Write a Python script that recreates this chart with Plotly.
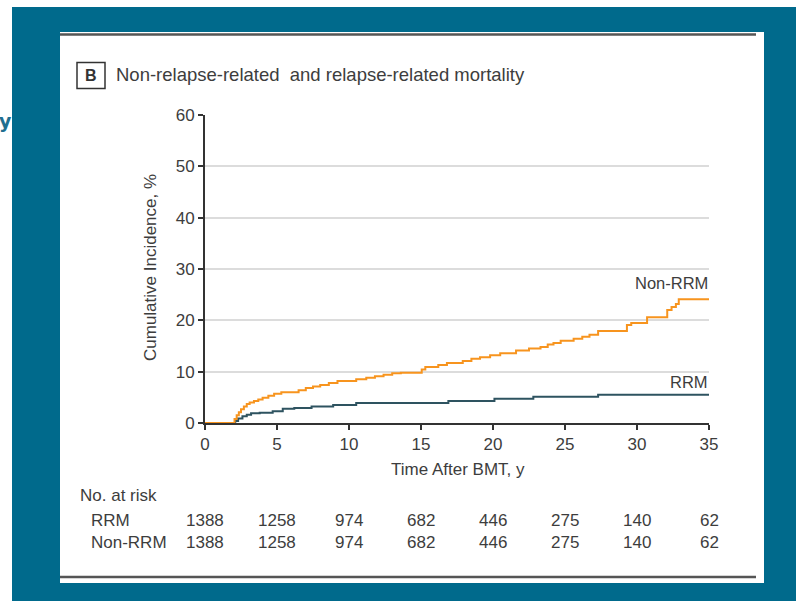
import plotly.graph_objects as go

# ---------------- data ----------------
nonrrm_t = [0, 2.05, 2.2, 2.35, 2.5, 2.7, 2.9, 3.1, 3.4, 3.7, 4.0, 4.4, 4.8, 5.3, 6.5, 7.0, 7.5,
            8.0, 8.6, 9.2, 10.5, 11.2, 11.8, 12.4, 13.0, 13.6, 15.05, 15.3, 16.2, 16.8, 17.9, 18.5,
            19.1, 19.8, 20.5, 21.6, 22.5, 23.3, 23.8, 24.2, 24.7, 25.6, 26.2, 26.7, 27.3, 29.3,
            29.6, 30.7, 32.1, 32.4, 32.7, 32.9, 35]
nonrrm_v = [0, 0.8, 1.5, 2.1, 2.7, 3.2, 3.7, 4.0, 4.3, 4.6, 4.9, 5.3, 5.7, 6.0, 6.4, 6.8, 7.1,
            7.4, 7.8, 8.2, 8.5, 8.8, 9.1, 9.4, 9.7, 9.8, 10.4, 10.9, 11.3, 11.7, 12.1, 12.5,
            12.8, 13.2, 13.6, 14.1, 14.5, 14.8, 15.3, 15.6, 16.0, 16.4, 16.8, 17.2, 17.9, 19.1,
            19.5, 20.6, 22.0, 22.6, 23.2, 24.1, 24.1]

rrm_t = [0, 2.1, 2.3, 2.6, 2.9, 3.2, 3.8, 4.7, 5.4, 6.2, 7.4, 8.9, 10.5, 16.9, 20.1, 22.8, 27.3, 35]
rrm_v = [0, 0.4, 0.9, 1.3, 1.6, 1.9, 2.0, 2.3, 2.8, 2.9, 3.2, 3.5, 3.9, 4.3, 4.7, 5.1, 5.5, 5.5]

risk_times = [0, 5, 10, 15, 20, 25, 30, 35]
risk_rrm = [1388, 1258, 974, 682, 446, 275, 140, 62]
risk_nonrrm = [1388, 1258, 974, 682, 446, 275, 140, 62]

x_ticks = [0, 5, 10, 15, 20, 25, 30, 35]
y_ticks = [0, 10, 20, 30, 40, 50, 60]

# ---------------- layout helpers ----------------
W, H = 796, 601
L, R, T, B = 205, 87, 115, 178
PW, PH = W - L - R, H - T - B


def px(x):
    return (x - L) / PW


def py(y):
    return (H - B - y) / PH


FONT = "Liberation Sans Narrow, Arial Narrow, sans-serif"
TXT = "#3d3d3d"
TEAL = "#006a8c"
ORANGE = "#f7941e"
SLATE = "#2e5360"

fig = go.Figure()
fig.add_trace(go.Scatter(x=rrm_t, y=rrm_v, mode="lines", line=dict(color=SLATE, width=2, shape="hv"),
                         showlegend=False, hoverinfo="skip"))
fig.add_trace(go.Scatter(x=nonrrm_t, y=nonrrm_v, mode="lines", line=dict(color=ORANGE, width=2, shape="hv"),
                         showlegend=False, hoverinfo="skip"))

shapes = [
    dict(type="rect", xref="paper", yref="paper", x0=px(0), x1=px(W), y0=py(0), y1=py(7),
         fillcolor="white", line=dict(width=0), layer="below"),
    dict(type="rect", xref="paper", yref="paper", x0=px(0), x1=px(12), y0=py(0), y1=py(H),
         fillcolor="white", line=dict(width=0), layer="below"),
    dict(type="rect", xref="paper", yref="paper", x0=px(60), x1=px(764), y0=py(32), y1=py(583),
         fillcolor="white", line=dict(width=0), layer="below"),
    dict(type="line", xref="paper", yref="paper", x0=px(60), x1=px(756), y0=py(34.5), y1=py(34.5),
         line=dict(color="#555555", width=2.5)),
    dict(type="line", xref="paper", yref="paper", x0=px(60), x1=px(756), y0=py(577), y1=py(577),
         line=dict(color="#555555", width=2.5)),
    dict(type="rect", xref="paper", yref="paper", x0=px(77), x1=px(105), y0=py(62.5), y1=py(88.5),
         fillcolor="white", line=dict(color="#333333", width=1.5)),
]

ann = []
ann.append(dict(text="<b>y</b>", x=px(13.5), y=py(121), xref="paper", yref="paper", xanchor="right",
                yanchor="middle", showarrow=False, font=dict(family="DejaVu Sans", size=19, color="#1f6f8f")))
ann.append(dict(text="<b>B</b>", x=px(91), y=py(75.5), xref="paper", yref="paper", xanchor="center",
                yanchor="middle", showarrow=False, font=dict(family=FONT, size=16, color="#333333")))
ann.append(dict(text="Non-relapse-related  and relapse-related mortality", x=px(114), y=py(75),
                xref="paper", yref="paper", xanchor="left", yanchor="middle", showarrow=False,
                font=dict(family=FONT, size=18.5, color=TXT)))
ann.append(dict(text="Cumulative Incidence, %", x=px(150), y=py(268), xref="paper", yref="paper",
                xanchor="center", yanchor="middle", textangle=-90, showarrow=False,
                font=dict(family=FONT, size=17, color=TXT)))
ann.append(dict(text="Time After BMT, y", x=px(458), y=py(469), xref="paper", yref="paper",
                xanchor="center", yanchor="middle", showarrow=False,
                font=dict(family=FONT, size=17, color=TXT)))
ann.append(dict(text="Non-RRM", x=px(710), y=py(283), xref="paper", yref="paper",
                xanchor="right", yanchor="middle", showarrow=False,
                font=dict(family=FONT, size=16.5, color=TXT)))
ann.append(dict(text="RRM", x=px(710), y=py(382), xref="paper", yref="paper",
                xanchor="right", yanchor="middle", showarrow=False,
                font=dict(family=FONT, size=16.5, color=TXT)))
ann.append(dict(text="No. at risk", x=px(78), y=py(496), xref="paper", yref="paper",
                xanchor="left", yanchor="middle", showarrow=False,
                font=dict(family=FONT, size=17, color=TXT)))
ann.append(dict(text="RRM", x=px(89), y=py(520), xref="paper", yref="paper",
                xanchor="left", yanchor="middle", showarrow=False,
                font=dict(family=FONT, size=17, color=TXT)))
ann.append(dict(text="Non-RRM", x=px(89), y=py(542), xref="paper", yref="paper",
                xanchor="left", yanchor="middle", showarrow=False,
                font=dict(family=FONT, size=17, color=TXT)))
for t, a, b in zip(risk_times, risk_rrm, risk_nonrrm):
    ann.append(dict(text=str(a), x=t, y=py(520), xref="x", yref="paper", xanchor="center",
                    yanchor="middle", showarrow=False, font=dict(family=FONT, size=17, color=TXT)))
    ann.append(dict(text=str(b), x=t, y=py(542), xref="x", yref="paper", xanchor="center",
                    yanchor="middle", showarrow=False, font=dict(family=FONT, size=17, color=TXT)))

fig.update_layout(
    width=W, height=H,
    margin=dict(l=L, r=R, t=T, b=B, pad=0),
    paper_bgcolor=TEAL,
    plot_bgcolor="rgba(0,0,0,0)",
    shapes=shapes,
    annotations=ann,
    showlegend=False,
    xaxis=dict(range=[0, 35], tickvals=x_ticks, showgrid=False, zeroline=False,
               showline=True, linecolor="#333333", linewidth=2,
               ticks="outside", ticklen=5, tickwidth=2, tickcolor="#333333",
               tickfont=dict(family=FONT, size=17, color=TXT), fixedrange=True),
    yaxis=dict(range=[0, 60], tickvals=y_ticks, showgrid=True, gridcolor="#dcdcdc", gridwidth=1.5,
               zeroline=False, showline=True, linecolor="#333333", linewidth=2,
               ticks="outside", ticklen=5, tickwidth=2, tickcolor="#333333",
               tickfont=dict(family=FONT, size=17, color=TXT), fixedrange=True),
)

fig.write_html("out.html")
